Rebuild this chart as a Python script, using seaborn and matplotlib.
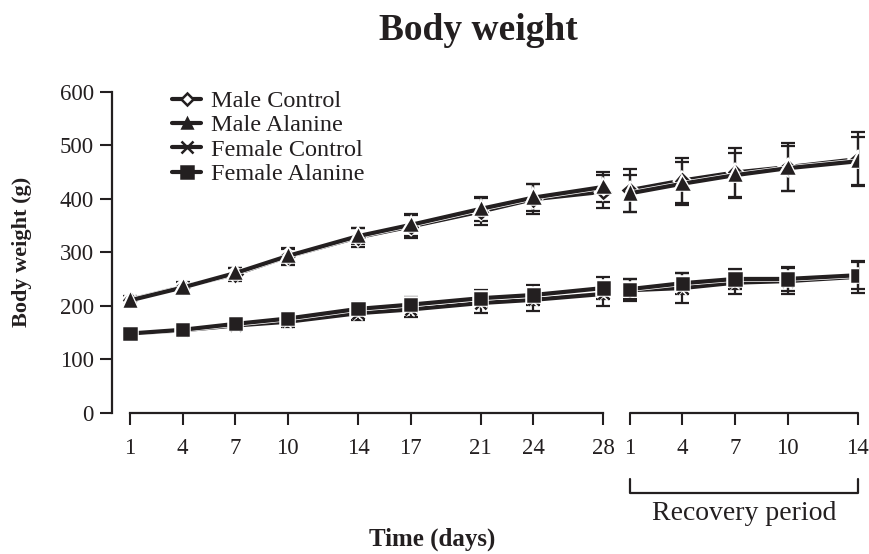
import pandas as pd
import matplotlib
matplotlib.use("Agg")
import matplotlib.pyplot as plt
import matplotlib.patheffects as pe
from matplotlib.transforms import blended_transform_factory
import seaborn as sns

# data: mean body weight (g) and SD, dosing days 1-28 then recovery days 1-14
main_days = [1, 4, 7, 10, 14, 17, 21, 24, 28]
rec_days = [1, 4, 7, 10, 14]
groups = ["Male Control", "Male Alanine", "Female Control", "Female Alanine"]

male_ctrl = [211, 235, 259, 292, 328, 348, 376, 399, 413, 416, 434, 449, 459, 474]
male_ala = [210, 234, 261, 293, 330, 351, 381, 402, 422, 410, 428, 444, 457, 470]
female_ctrl = [148, 154, 163, 170, 186, 193, 205, 211, 222, 229, 233, 243, 246, 254]
female_ala = [148, 155, 166, 176, 194, 202, 214, 220, 233, 231, 242, 250, 250, 257]

male_ctrl_sd = [8, 9, 12, 15, 18, 22, 25, 28, 31, 40, 42, 45, 45, 50]
male_ala_sd = [7, 8, 10, 13, 15, 20, 22, 25, 28, 35, 40, 42, 42, 45]
female_ctrl_sd = [6, 7, 9, 10, 12, 15, 18, 20, 22, 20, 28, 22, 25, 30]
female_ala_sd = [5, 6, 8, 10, 12, 14, 16, 18, 20, 18, 20, 18, 22, 25]

REC_OFFSET = 28.5  # recovery day 1 sits a bit after dosing day 28
INK = "#231f20"

rows = []
for g, m, s in zip(groups, [male_ctrl, male_ala, female_ctrl, female_ala],
                   [male_ctrl_sd, male_ala_sd, female_ctrl_sd, female_ala_sd]):
    for i, d in enumerate(main_days + rec_days):
        rec = i >= len(main_days)
        rows.append({"group": g, "period": "recovery" if rec else "dosing",
                     "pos": d + REC_OFFSET if rec else d,
                     "weight": m[i], "sd": s[i]})
df = pd.DataFrame(rows)

sns.set_style("white")
plt.rcParams["font.family"] = ["Liberation Serif", "DejaVu Serif"]
plt.rcParams["text.color"] = INK

fig = plt.figure(figsize=(8.7, 5.54), dpi=100)
ax = fig.add_axes([112.5 / 870, 1 - 412.7 / 554, 747 / 870, 321 / 554])

styles = {
    "Male Control": dict(marker="D", markersize=6.5, markerfacecolor="white"),
    "Male Alanine": dict(marker="^", markersize=7.5, markerfacecolor=INK),
    "Female Control": dict(marker="x", markersize=8, markerfacecolor=INK),
    "Female Alanine": dict(marker="s", markersize=8, markerfacecolor=INK),
}
outline = [pe.Stroke(linewidth=4.0, foreground="white"), pe.Normal()]

for g in ["Female Control", "Female Alanine", "Male Control", "Male Alanine"]:
    sub = df[df["group"] == g]
    ax.errorbar(sub["pos"], sub["weight"], yerr=sub["sd"], fmt="none",
                ecolor=INK, elinewidth=1.6, capsize=5, capthick=1.6,
                zorder=2, clip_on=False)
    sns.lineplot(data=sub, x="pos", y="weight", units="period", estimator=None,
                 color=INK, linewidth=3.0, markeredgecolor=INK,
                 markeredgewidth=1.8, label=g, ax=ax, zorder=3,
                 path_effects=outline, **styles[g])

ax.set_xlim(0, 42.6)
ax.set_ylim(0, 600)
ax.set_yticks(range(0, 601, 100))

main_pos = sorted(df.loc[df["period"] == "dosing", "pos"].unique())
rec_pos = sorted(df.loc[df["period"] == "recovery", "pos"].unique())
ax.set_xticks(main_pos + rec_pos)
ax.set_xticklabels([str(d) for d in main_days + rec_days])

for side in ["top", "right"]:
    ax.spines[side].set_visible(False)
for side in ["left", "bottom"]:
    ax.spines[side].set_linewidth(1.6)
    ax.spines[side].set_color(INK)
ax.spines["left"].set_bounds(0, 600)
ax.spines["bottom"].set_bounds(main_pos[0], main_pos[-1])
ax.plot([rec_pos[0], rec_pos[-1]], [0, 0], color=INK, lw=1.6,
        transform=ax.get_xaxis_transform(), clip_on=False)

ax.tick_params(axis="both", direction="out", length=8.5, width=1.5,
               colors=INK, labelsize=16.5, bottom=True, left=True)
ax.tick_params(axis="x", pad=10)
ax.tick_params(axis="y", pad=5)
ax.set_xlabel("")
ax.set_ylabel("")

# recovery bracket under the axis
trans = blended_transform_factory(ax.transData, fig.transFigure)
y_top, y_bot = 1 - 479 / 554, 1 - 493 / 554
ax.plot([rec_pos[0], rec_pos[0], rec_pos[-1], rec_pos[-1]],
        [y_top, y_bot, y_bot, y_top], color=INK, lw=1.6,
        transform=trans, clip_on=False)
ax.text((rec_pos[0] + rec_pos[-1]) / 2, 1 - 513 / 554, "Recovery period",
        transform=trans, ha="center", va="center", fontsize=20)

fig.text(478 / 870, 1 - 31 / 554, "Body weight", ha="center", va="center",
         fontsize=27, fontweight="bold")
fig.text(432 / 870, 1 - 539 / 554, "Time (days)", ha="center", va="center",
         fontsize=18, fontweight="bold")
fig.text(22 / 870, 1 - 252 / 554, "Body weight (g)", ha="center", va="center",
         rotation=90, fontsize=16, fontweight="bold")

handles, labels = ax.get_legend_handles_labels()
uniq = dict(zip(labels, handles))
leg = ax.legend([uniq[g] for g in groups], groups, loc="upper left",
                bbox_to_anchor=(172 / 870, 1 - 90 / 554),
                bbox_transform=fig.transFigure, frameon=False, fontsize=17.5,
                handlelength=1.2, handletextpad=0.4, labelspacing=0.1,
                borderpad=0, borderaxespad=0)
for line in leg.get_lines():
    line.set_path_effects([])

fig.savefig("out.png", dpi=100)
